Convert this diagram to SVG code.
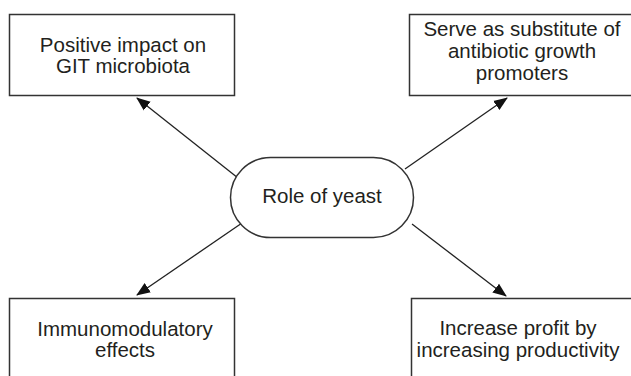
<svg xmlns="http://www.w3.org/2000/svg" width="631" height="376" viewBox="0 0 631 376">
<style>
.box{fill:#fff;stroke:#333;stroke-width:1.5}
.t{font-family:"Liberation Sans",Arial,sans-serif;font-size:20.5px;fill:#231f20;text-anchor:middle}
.c{stroke:#222;stroke-width:1.3;fill:none;marker-end:url(#ah)}
</style>
<defs>
<marker id="ah" markerUnits="userSpaceOnUse" markerWidth="14" markerHeight="12" refX="13" refY="5.5" orient="auto" viewBox="0 0 14 11">
<path d="M0,0 L14,5.5 L0,11 z" fill="#111"/>
</marker>
</defs>
<rect width="631" height="376" fill="#fff"/>
<g id="connectors">
<line class="c" x1="238" y1="178" x2="137" y2="98"/>
<line class="c" x1="405" y1="169" x2="507" y2="98"/>
<line class="c" x1="242" y1="223" x2="137" y2="295"/>
<line class="c" x1="412" y1="224" x2="506" y2="296"/>
</g>
<g id="center">
<rect class="box" x="230.5" y="157.5" width="183" height="80" rx="40" ry="40"/>
<text class="t" x="322" y="203">Role of yeast</text>
</g>
<g id="gitMicrobiota">
<rect class="box" x="9.5" y="14.5" width="225" height="81"/>
<text class="t" x="123" y="52">Positive impact on</text>
<text class="t" x="123" y="73">GIT microbiota</text>
</g>
<g id="antibioticSubstitute">
<rect class="box" x="409.5" y="14.5" width="240" height="81"/>
<text class="t" x="522" y="36">Serve as substitute of</text>
<text class="t" x="522" y="58">antibiotic growth</text>
<text class="t" x="522" y="80">promoters</text>
</g>
<g id="immunomodulatory">
<rect class="box" x="9.5" y="298.5" width="225" height="100"/>
<text class="t" x="125" y="336">Immunomodulatory</text>
<text class="t" x="125" y="357">effects</text>
</g>
<g id="increaseProfit">
<rect class="box" x="411.5" y="298.5" width="240" height="100"/>
<text class="t" x="518" y="335">Increase profit by</text>
<text class="t" x="518" y="357">increasing productivity</text>
</g>
</svg>
